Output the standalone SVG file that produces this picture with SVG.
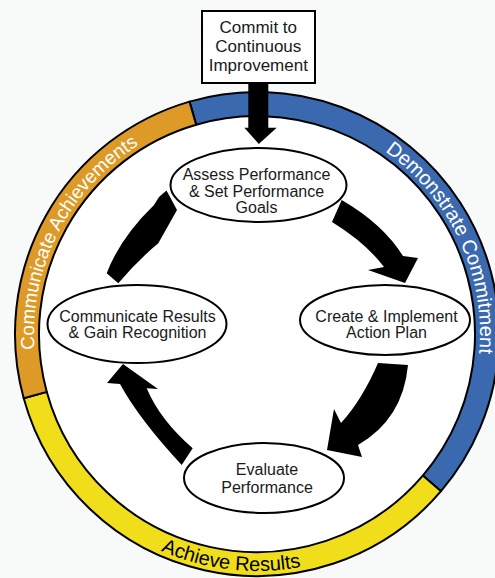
<svg xmlns="http://www.w3.org/2000/svg" width="495" height="578" viewBox="0 0 495 578">
<defs>
<style>
.ring{stroke:#000;stroke-width:2;stroke-linejoin:round}
.node{fill:#fff;stroke:#000;stroke-width:2}
.lbl{font-family:"Liberation Sans",Arial,sans-serif;font-size:16px;fill:#1a1a1a;text-anchor:middle}
.rt{font-family:"Liberation Sans",Arial,sans-serif;font-size:20px;text-anchor:middle}
.arr{fill:#000}
</style>
<path id="pDem" d="M199.28,118.60 A223,223 0 0 1 384.91,516.67"/>
<path id="pCom" d="M122.80,512.10 A223,223 0 0 1 322.20,120.74"/>
<path id="pAch" d="M20.42,348.06 A237,237 0 0 0 484.12,401.71"/>
</defs>
<rect width="495" height="578" fill="#f7faf8"/>
<circle cx="257" cy="334" r="218" fill="#fff"/>
<g id="ring">
<path id="seg-blue" class="ring" fill="#3b69af" d="M189.5,101.6 A242,242 0 0 1 441.0,491.2 L422.8,475.6 A218,218 0 0 0 196.2,124.7 Z"/>
<path id="seg-yellow" class="ring" fill="#f1de1b" d="M441.0,491.2 A242,242 0 0 1 23.7,398.3 L46.8,391.9 A218,218 0 0 0 422.8,475.6 Z"/>
<path id="seg-orange" class="ring" fill="#dd9a27" d="M23.7,398.3 A242,242 0 0 1 189.5,101.6 L196.2,124.7 A218,218 0 0 0 46.8,391.9 Z"/>
<text class="rt" fill="#fff"><textPath href="#pDem" startOffset="50%">Demonstrate Commitment</textPath></text>
<text class="rt" fill="#fff" style="font-size:19px"><textPath href="#pCom" startOffset="50%">Communicate Achievements</textPath></text>
<text class="rt" fill="#000"><textPath href="#pAch" startOffset="50%">Achieve Results</textPath></text>
</g>
<g id="connectors">
<path class="arr" d="M248.3,83 L268.3,83 L268.3,127.7 L276.7,127.7 L258.8,144 L244.3,127.7 L248.3,127.7 Z"/>
<path class="arr" d="M341.7,200 Q383,224 403,256 L418,258 L405,283 L368,270 L384,267 Q366,243 332,222 Z"/>
<path class="arr" d="M378,363 L408,365 Q403,419 358,445 L362,457 L327,450 L334,409 L341,423 Q362,400 378,363 Z"/>
<path class="arr" d="M192.7,448.3 L181.7,465 Q139,419 120,384 L107,383 L123,364 L158,389 L146.7,388.3 Q160,420 192.7,448.3 Z"/>
<path class="arr" d="M106.7,273.3 Q120,238 154,205 L159,197 L166.5,190.5 L177,210 L158.3,243.3 Q138,260 118.3,283.3 Z"/>
</g>
<g id="node-commit">
<rect x="202" y="11" width="113" height="72" fill="#fff" stroke="#000" stroke-width="2"/>
<text class="lbl" style="font-size:17px" x="258.3" y="33">Commit to</text>
<text class="lbl" style="font-size:17px" x="258.3" y="52">Continuous</text>
<text class="lbl" style="font-size:17px" x="258.3" y="71">Improvement</text>
</g>
<g id="node-assess">
<ellipse class="node" cx="258.5" cy="185" rx="88" ry="37"/>
<text class="lbl" x="256.5" y="180">Assess Performance</text>
<text class="lbl" x="256.5" y="196.5">&amp; Set Performance</text>
<text class="lbl" x="256.5" y="213">Goals</text>
</g>
<g id="node-create">
<ellipse class="node" cx="385" cy="320" rx="85" ry="35"/>
<text class="lbl" x="386.5" y="321.5">Create &amp; Implement</text>
<text class="lbl" x="386.5" y="338">Action Plan</text>
</g>
<g id="node-communicate">
<ellipse class="node" cx="137" cy="324" rx="89.5" ry="39"/>
<text class="lbl" x="137.5" y="321.5">Communicate Results</text>
<text class="lbl" x="137.5" y="338">&amp; Gain Recognition</text>
</g>
<g id="node-evaluate">
<ellipse class="node" cx="264" cy="478" rx="80" ry="35"/>
<text class="lbl" x="267" y="475">Evaluate</text>
<text class="lbl" x="267" y="492.5">Performance</text>
</g>
</svg>
